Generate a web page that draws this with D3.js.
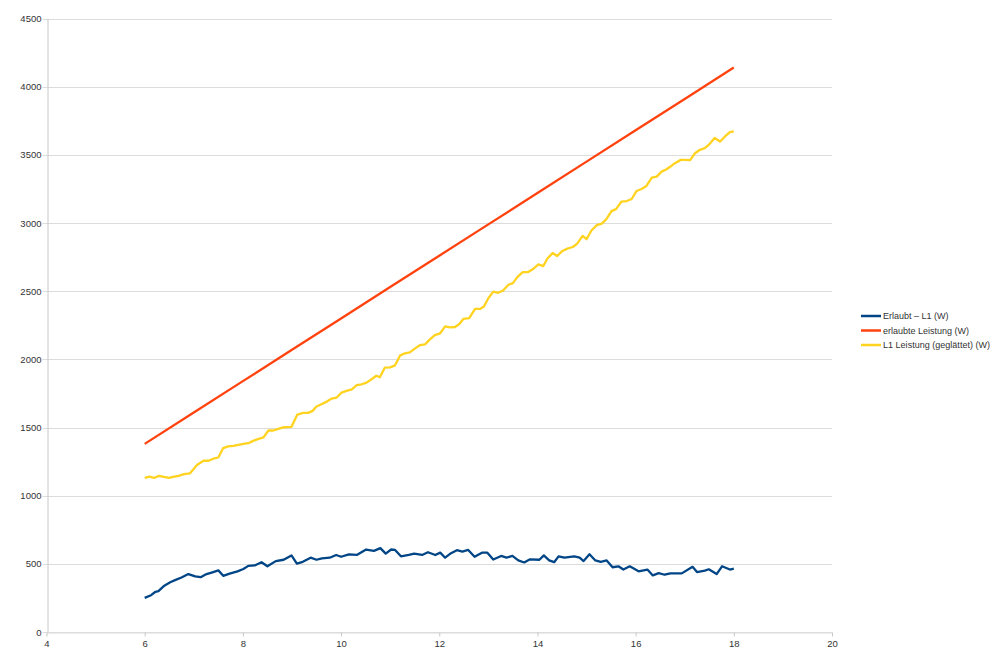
<!DOCTYPE html>
<html>
<head>
<meta charset="utf-8">
<script src="https://cdn.jsdelivr.net/npm/d3@7"></script>
<style>
  body { margin: 0; background: #fff; }
  svg { display: block; font-family: "Liberation Sans", Arial, sans-serif; }
</style>
</head>
<body>
<div id="chart"></div>
<script>
// Erlaubt – L1 (W)
const blueX = [6.00, 6.13, 6.22, 6.28, 6.40, 6.52, 6.63, 6.75, 6.89, 7.03, 7.14, 7.26, 7.38, 7.50, 7.60, 7.73, 7.89, 8.01, 8.11, 8.24,
  8.38, 8.50, 8.67, 8.83, 8.99, 9.10, 9.22, 9.38, 9.50, 9.61, 9.77, 9.90, 10.00, 10.16, 10.32, 10.51, 10.67, 10.80, 10.91, 11.02,
  11.10, 11.22, 11.38, 11.49, 11.65, 11.77, 11.92, 12.02, 12.12, 12.24, 12.36, 12.47, 12.59, 12.72, 12.87, 12.98, 13.10, 13.26, 13.37, 13.49,
  13.61, 13.73, 13.84, 14.04, 14.13, 14.24, 14.34, 14.43, 14.55, 14.75, 14.86, 14.94, 15.06, 15.18, 15.29, 15.41, 15.53, 15.65, 15.75, 15.88,
  16.06, 16.24, 16.35, 16.47, 16.59, 16.71, 16.94, 17.16, 17.25, 17.41, 17.49, 17.65, 17.76, 17.92, 18.00]
const blueY = [250, 270, 295, 300, 340, 365, 382, 400, 425, 408, 402, 425, 438, 452, 412, 428, 445, 462, 485, 488,
  512, 482, 520, 530, 562, 502, 515, 545, 530, 540, 545, 565, 552, 570, 565, 605, 595, 615, 575, 605,
  602, 555, 565, 575, 565, 585, 565, 582, 545, 578, 600, 590, 602, 552, 582, 582, 532, 558, 545, 558,
  525, 510, 532, 530, 562, 525, 512, 555, 545, 555, 545, 520, 570, 525, 515, 525, 475, 482, 458, 482,
  445, 458, 415, 432, 420, 430, 430, 478, 440, 450, 460, 425, 482, 458, 465]

// erlaubte Leistung (W)
const redX = [6, 7, 8, 9, 10, 11, 12, 13, 14, 15, 16, 17, 18]
const redY = [1380, 1610, 1840, 2070, 2300, 2530, 2760, 2990, 3220, 3450, 3680, 3910, 4140]

// L1 Leistung (geglättet) (W)
const yellowX = [6.00, 6.10, 6.19, 6.29, 6.39, 6.50, 6.58, 6.69, 6.80, 6.92, 7.07, 7.20, 7.30, 7.40, 7.50, 7.60, 7.70, 7.81, 7.91, 8.01,
  8.11, 8.21, 8.32, 8.42, 8.52, 8.62, 8.72, 8.84, 8.99, 9.11, 9.23, 9.33, 9.42, 9.50, 9.61, 9.71, 9.81, 9.91, 10.01, 10.11,
  10.22, 10.32, 10.42, 10.52, 10.62, 10.72, 10.79, 10.89, 11.00, 11.10, 11.20, 11.30, 11.40, 11.51, 11.61, 11.71, 11.81, 11.91, 12.01, 12.12,
  12.22, 12.32, 12.41, 12.49, 12.61, 12.73, 12.83, 12.91, 13.00, 13.10, 13.20, 13.30, 13.41, 13.50, 13.59, 13.70, 13.81, 13.92, 14.02, 14.12,
  14.20, 14.31, 14.40, 14.51, 14.61, 14.72, 14.81, 14.92, 15.00, 15.10, 15.21, 15.31, 15.40, 15.51, 15.60, 15.71, 15.82, 15.92, 16.02, 16.12,
  16.22, 16.33, 16.43, 16.53, 16.63, 16.71, 16.80, 16.92, 17.00, 17.11, 17.21, 17.31, 17.41, 17.51, 17.61, 17.72, 17.82, 17.92, 18.00]
const yellowY = [1130, 1140, 1130, 1145, 1137, 1130, 1137, 1145, 1158, 1163, 1227, 1256, 1256, 1271, 1280, 1349, 1361, 1366, 1373, 1380,
  1385, 1402, 1417, 1427, 1478, 1478, 1490, 1502, 1505, 1595, 1607, 1607, 1622, 1654, 1673, 1690, 1712, 1720, 1756, 1768,
  1780, 1810, 1817, 1829, 1854, 1880, 1868, 1939, 1941, 1956, 2027, 2044, 2051, 2080, 2105, 2110, 2146, 2178, 2188, 2242,
  2235, 2237, 2259, 2296, 2303, 2370, 2370, 2387, 2448, 2497, 2488, 2505, 2547, 2559, 2603, 2640, 2640, 2665, 2697, 2684,
  2738, 2780, 2758, 2795, 2812, 2824, 2849, 2905, 2881, 2945, 2984, 2996, 3026, 3087, 3102, 3156, 3161, 3176, 3235, 3249,
  3272, 3333, 3340, 3377, 3394, 3414, 3439, 3463, 3463, 3461, 3512, 3537, 3549, 3581, 3623, 3598, 3635, 3667, 3672]

const xTicks = [4, 6, 8, 10, 12, 14, 16, 18, 20]
const yTicks = [0, 500, 1000, 1500, 2000, 2500, 3000, 3500, 4000, 4500]

const seriesNames = ['Erlaubt – L1 (W)', 'erlaubte Leistung (W)', 'L1 Leistung (geglättet) (W)']
const seriesColors = ['#004586', '#ff420e', '#ffd320']

const width = 1000
const height = 663
const margin = { left: 46.5, right: 168, top: 18.5, bottom: 31 }
const font = '"Liberation Sans", Arial, sans-serif'

const svg = d3.select('#chart').append('svg')
  .attr('width', width)
  .attr('height', height)

const x = d3.scaleLinear().domain([4, 20]).range([margin.left, width - margin.right])
const y = d3.scaleLinear().domain([0, 4500]).range([height - margin.bottom, margin.top])

// Gitterlinien
svg.append('g')
  .selectAll('line')
  .data(yTicks)
  .join('line')
  .attr('x1', x(4) - 4)
  .attr('x2', x(20))
  .attr('y1', d => Math.round(y(d)) + 0.5)
  .attr('y2', d => Math.round(y(d)) + 0.5)
  .attr('stroke', '#dcdcdc')
  .attr('stroke-width', 1)

// y-Achse
const yAxis = svg.append('g')
  .attr('transform', 'translate(' + (Math.round(x(4)) + 0.5) + ',0)')
  .call(d3.axisLeft(y).tickValues(yTicks).tickSize(0).tickPadding(6).tickFormat(d3.format('d')))
yAxis.select('.domain').attr('stroke', '#c8c8c8')
yAxis.selectAll('text').attr('fill', '#333').attr('font-size', 9.5).attr('font-family', font)

// x-Achse
const xAxis = svg.append('g')
  .attr('transform', 'translate(0,' + (Math.round(y(0)) + 0.5) + ')')
  .call(d3.axisBottom(x).tickValues(xTicks).tickSize(4).tickPadding(4).tickSizeOuter(0).tickFormat(d3.format('d')))
xAxis.select('.domain').attr('stroke', '#dcdcdc')
xAxis.selectAll('line').attr('stroke', '#c8c8c8')
xAxis.selectAll('text').attr('fill', '#333').attr('font-size', 9.5).attr('font-family', font)

// Linien
const line = d3.line().x(d => x(d[0])).y(d => y(d[1]))
const series = [
  d3.zip(blueX, blueY),
  d3.zip(redX, redY),
  d3.zip(yellowX, yellowY)
]

// gelb, dann rot, dann blau
;[2, 1, 0].forEach(i => {
  svg.append('path')
    .datum(series[i])
    .attr('d', line)
    .attr('fill', 'none')
    .attr('stroke', seriesColors[i])
    .attr('stroke-width', 2.3)
    .attr('stroke-linejoin', 'round')
})

// Legende
const legend = svg.append('g').attr('transform', 'translate(861,316)')
seriesNames.forEach((name, i) => {
  const g = legend.append('g').attr('transform', 'translate(0,' + (i * 14.5) + ')')
  g.append('line')
    .attr('x1', 0).attr('x2', 20)
    .attr('y1', 0).attr('y2', 0)
    .attr('stroke', seriesColors[i])
    .attr('stroke-width', 2.5)
  g.append('text')
    .attr('x', 22)
    .attr('y', 3.3)
    .attr('font-size', 9)
    .attr('font-family', font)
    .attr('textLength', i === 2 ? 107 : null)
    .attr('fill', '#333')
    .text(name)
})
</script>
</body>
</html>
